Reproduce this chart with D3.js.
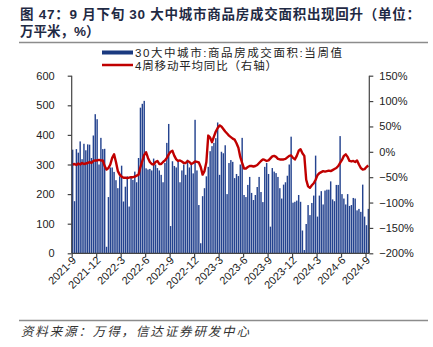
<!DOCTYPE html>
<html>
<head>
<meta charset="utf-8">
<script src="https://cdn.jsdelivr.net/npm/d3@7/dist/d3.min.js"></script>
<style>
  body { margin: 0; background: #fff; }
  text { font-family: "Liberation Sans", Arial, sans-serif; }
  .cjk { font-family: "Liberation Sans", "Noto Sans CJK SC", sans-serif; }
</style>
</head>
<body>
<svg id="chart" width="433" height="347"></svg>
<script>
// Weekly series, Sept 2021 – Sept 2024
const quarterLabels = ["2021-9","2021-12","2022-3","2022-6","2022-9","2022-12","2023-3",
                       "2023-6","2023-9","2023-12","2024-3","2024-6","2024-9"];
const quarterWeekIndex = [0,13,26,39,52,65,78,91,104,117,130,143,156];

// 30 cities: weekly transaction area (10k m²)
const weeklyArea = [
  350,176,352,340,378,318,370,348,368,367,322,398,470,453,300,390,352,353,22,
  190,290,290,275,247,220,260,296,175,225,260,158,255,248,276,240,322,492,505,515,287,283,
  285,280,320,300,288,280,265,240,305,373,437,92,
  311,295,290,311,240,280,300,265,316,290,305,270,451,280,163,34,
  193,220,260,292,345,362,373,389,442,265,
  343,338,365,200,305,315,309,254,268,261,300,390,
  197,190,231,258,204,180,197,224,258,207,173,
  292,305,268,90,288,276,271,258,220,185,232,240,262,300,394,
  171,174,178,197,174,77,11,99,163,129,170,195,330,124,
  195,210,165,212,215,215,243,182,176,231,231,396,200,185,165,200,160,163,187,185,145,150,140,232,124,95,150
];

// 4-week moving average, year-on-year (%)
const yoyMA4 = [
  -25,-24,-26,-23,-25,-22,-24,-23,-22,-20,-22,
  -18,-17,-17,-16,-17,-17,
  -28,-35,-32,-25,-12,-5,-20,-38,-45,
  -49,-51,-51,-52,-51,-50,-50,-49,-47,-45,
  -30,-18,-6,-1,-12,-20,-24,-25,-20,-18,
  -24,-24,-20,-17,-12,-5,0,2,-8,-15,
  -18,-17,-19,-22,-22,-18,-20,-24,-22,-19,-20,-21,-30,
  -45,-38,-20,32,28,19,30,40,47,52,
  50,45,40,36,32,29,26,24,17,8,
  -10,-22,-33,-33,-30,-28,-28,-29,-28,-26,-22,-18,
  -15,-16,-18,-17,-13,-9,-8,-10,-14,-15,-15,-15,
  -14,-11,-8,-7,-12,-15,-8,2,5,-3,-8,
  -55,-68,-71,-66,-62,-55,-46,-42,-40,-38,-39,-38,
  -37,-38,-36,-34,-32,-28,-22,-16,-8,-5,
  -10,-18,-19,-18,-20,-17,-25,-32,-35,-34,-30,-27
];

const leftTicks = [0,100,200,300,400,500,600];
const rightTicks = [-200,-150,-100,-50,0,50,100,150];

const svg = d3.select("#chart");
const plot = { left: 71.7, right: 369.3, top: 75.7, bottom: 253.3 };
const N = weeklyArea.length;

const x = d3.scaleLinear().domain([0, N]).range([plot.left, plot.right]);
const yL = d3.scaleLinear().domain([0, 600]).range([plot.bottom, plot.top]);
const yR = d3.scaleLinear().domain([-200, 150]).range([plot.bottom, plot.top]);
const step = x(1) - x(0);

// Title
const title = svg.append("g")
  .attr("fill", "#1f2a44").attr("font-weight", "bold").attr("font-size", 13.5);
title.append("text").attr("class", "cjk").attr("x", 20).attr("y", 18.5)
  .attr("textLength", 400).attr("lengthAdjust", "spacing")
  .text("图  47：9 月下旬 30 大中城市商品房成交面积出现回升（单位：");
title.append("text").attr("class", "cjk").attr("x", 20).attr("y", 36)
  .text("万平米，%）");

svg.append("line").attr("x1", 19).attr("x2", 428).attr("y1", 42.5).attr("y2", 42.5)
  .attr("stroke", "#8c8c8c").attr("stroke-width", 1.5);

// Legend
const lg = svg.append("g");
lg.append("rect").attr("x", 102).attr("y", 50.5).attr("width", 31).attr("height", 4)
  .attr("fill", "#1b3a80");
lg.append("text").attr("class", "cjk").attr("x", 135).attr("y", 56.5)
  .attr("font-size", 11.5).attr("fill", "#222")
  .attr("textLength", 207).attr("lengthAdjust", "spacing")
  .text("30大中城市:商品房成交面积:当周值");
lg.append("line").attr("x1", 102).attr("x2", 133).attr("y1", 65).attr("y2", 65)
  .attr("stroke", "#c00000").attr("stroke-width", 2.5);
lg.append("text").attr("class", "cjk").attr("x", 135).attr("y", 69.5)
  .attr("font-size", 11.5).attr("fill", "#222")
  .attr("textLength", 142).attr("lengthAdjust", "spacing")
  .text("4周移动平均同比（右轴）");

// Bars
svg.append("g").selectAll("rect").data(weeklyArea).join("rect")
  .attr("x", (d, i) => x(i) + step * 0.12)
  .attr("width", step * 0.76)
  .attr("y", d => yL(d))
  .attr("height", d => yL(0) - yL(d))
  .attr("fill", "#24438f");

// Moving-average line
const line = d3.line().x((d, i) => x(i + 0.5)).y(d => yR(d));
svg.append("path").datum(yoyMA4).attr("d", line)
  .attr("fill", "none").attr("stroke", "#c00000").attr("stroke-width", 2.4)
  .attr("stroke-linejoin", "round");

// Axes
const axisColor = "#444";
const gL = svg.append("g").attr("transform", `translate(${plot.left},0)`)
  .call(d3.axisLeft(yL).tickValues(leftTicks).tickSize(4).tickPadding(13));
const gR = svg.append("g").attr("transform", `translate(${plot.right},0)`)
  .call(d3.axisRight(yR).tickValues(rightTicks).tickSize(4).tickPadding(6)
    .tickFormat(d => (d < 0 ? "\u2212" + Math.abs(d) : d) + "%"));
const gB = svg.append("g").attr("transform", `translate(0,${plot.bottom})`)
  .call(d3.axisBottom(x).tickValues(quarterWeekIndex).tickSize(4)
    .tickFormat((d, i) => quarterLabels[i]));

[gL, gR, gB].forEach(g => {
  g.select(".domain").attr("stroke", axisColor).attr("stroke-width", 1.2);
  g.selectAll(".tick line").attr("stroke", axisColor).attr("stroke-width", 1.2);
  g.selectAll(".tick text").attr("fill", "#222").attr("font-size", 11)
    .attr("font-family", "Liberation Sans, Arial, sans-serif");
});
gB.select(".domain").attr("d", `M${plot.left},0H${plot.right}`);
gL.select(".domain").attr("d", `M0,${plot.top}V${plot.bottom}`);
gR.select(".domain").attr("d", `M0,${plot.top}V${plot.bottom}`);
gB.selectAll(".tick text")
  .attr("text-anchor", "end")
  .attr("transform", "translate(2,5) rotate(-45)")
  .attr("dy", "0.35em").attr("y", 0).attr("x", 0);

// Source
svg.append("line").attr("x1", 19).attr("x2", 428).attr("y1", 320.5).attr("y2", 320.5)
  .attr("stroke", "#8c8c8c").attr("stroke-width", 1.5);
svg.append("text").attr("class", "cjk").attr("x", 21).attr("y", 336)
  .attr("font-size", 12.5).attr("font-style", "italic").attr("fill", "#333")
  .attr("textLength", 228).attr("lengthAdjust", "spacing")
  .text("资料来源：万得，信达证券研发中心");
</script>
</body>
</html>
